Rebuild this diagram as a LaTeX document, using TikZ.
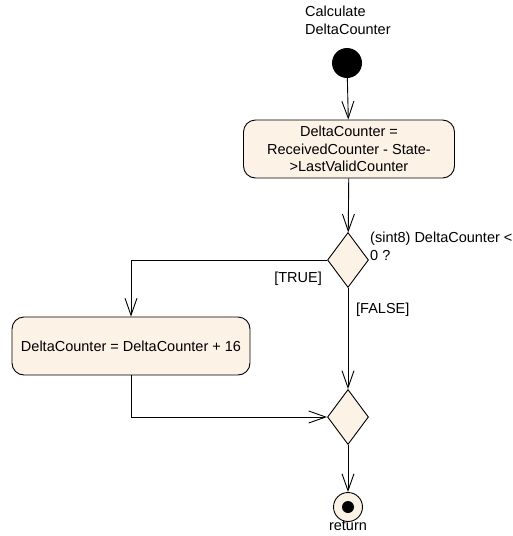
\documentclass[tikz,border=0pt]{standalone}
\usepackage{fontspec}
\setmainfont{Liberation Sans}
\usepackage{xcolor}
\usetikzlibrary{shapes.geometric,arrows.meta}
\definecolor{actfill}{RGB}{252,242,230}

\begin{document}
\begin{tikzpicture}[x=1pt,y=-1pt,
    font=\fontsize{14.5}{17.5}\selectfont,
    action/.style={rectangle,rounded corners=12pt,draw,line width=0.9pt,fill=actfill,align=center,inner sep=0pt},
    decision/.style={diamond,draw,line width=0.9pt,fill=actfill,inner sep=0pt,minimum width=41pt,minimum height=55pt},
    flow/.style={draw,line width=0.9pt,-{Straight Barb[length=17pt,width=12pt,line width=0.9pt]}},
    guard/.style={inner sep=0pt,align=left}]
    \useasboundingbox (0,0) rectangle (513,536);
    \node[circle,fill=black,minimum size=30pt,inner sep=0pt](start) at (347,63) {};
    \node[guard,anchor=north west](title) at (305,6) {Calculate\\DeltaCounter};
    \node[action,minimum width=211pt,minimum height=58pt](act1) at (349,149)
        {DeltaCounter =\\ReceivedCounter - State-\\>LastValidCounter};
    \node[decision](dec1) at (348,260) {};
    \node[guard,anchor=north west](cond) at (370,232) {(sint8) DeltaCounter <\\0 ?};
    \node[action,minimum width=238pt,minimum height=58pt](act2) at (131,346)
        {DeltaCounter = DeltaCounter + 16};
    \node[decision](merge) at (348,417) {};
    \node[circle,draw,line width=0.9pt,fill=actfill,minimum size=29pt,inner sep=0pt](final) at (348,507) {};
    \node[circle,fill=black,minimum size=12pt,inner sep=0pt](finaldot) at (final.center) {};
    \node[guard,anchor=north](ret) at (348,521) {return};
    \draw[flow] (start) -- (act1);
    \draw[flow] (act1) -- (dec1);
    \draw[flow] (dec1.west) -| (act2.north);
    \node[guard,anchor=east](true) at (322,279) {[TRUE]};
    \draw[flow] (dec1.south) -- (merge.north);
    \node[guard,anchor=west](false) at (356,310) {[FALSE]};
    \draw[flow] (act2.south) |- (merge.west);
    \draw[flow] (merge.south) -- (final.north);
\end{tikzpicture}
\end{document}
